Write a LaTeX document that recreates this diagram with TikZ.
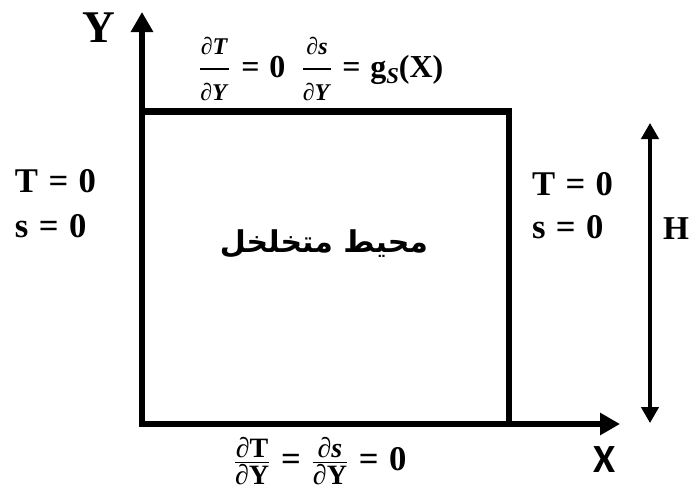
\documentclass[tikz,border=0pt]{standalone}
\usepackage{amsmath}
\usepackage{fontspec}
\setmainfont{Liberation Serif}
\newfontfamily\calfont{Carlito}
\newfontfamily\arabicfont[Script=Arabic]{DejaVu Sans}
\TeXXeTstate=1
\usetikzlibrary{arrows.meta}
\newcommand\fsz[1]{\fontsize{#1}{#1}\selectfont}
\newcommand\myfr[3]{$\genfrac{}{}{0.9pt}{1}{\text{\fsz{#1}\bfseries #2}}{\text{\fsz{#1}\bfseries #3}}$}
\newcommand\myfrd[3]{$\genfrac{}{}{0.9pt}{0}{\text{\fsz{#1}\bfseries #2}}{\text{\fsz{#1}\bfseries #3}}$}
\newcommand\eqs{\hspace{0.3em}=\hspace{0.3em}}
\tikzset{
  lbl/.style={inner sep=0pt, outer sep=0pt, font=\bfseries},
  thickline/.style={line width=5pt, line join=miter, line cap=butt},
  harrow/.style={line width=2.6pt, {Triangle[length=12pt,width=13pt]}-{Triangle[length=12pt,width=13pt]}}
}
\begin{document}
\begin{tikzpicture}[x=0.75pt,y=-0.75pt]
\useasboundingbox (0,0) rectangle (690,497);
% axes
\coordinate (ytip) at (142,12);
\coordinate (orig) at (142,424);
\coordinate (xtip) at (620,424);
\coordinate (tl) at (142,111.5);
\coordinate (tr) at (509,111.5);
\coordinate (br) at (509,424);
\draw[thickline, {Triangle[length=15pt,width=16pt]}-{Triangle[length=15pt,width=16pt]}] (ytip) -- (orig) -- (xtip);
\draw[thickline] (tl) -- (tr) -- (br);
% H arrow
\coordinate (htop) at (650,123);
\coordinate (hbot) at (650,423);
\draw[harrow] (htop) -- (hbot);
% labels
\node[lbl, font=\bfseries\fsz{34}] (Y) at (99,28) {Y};
\node[lbl, font=\calfont\bfseries\fsz{30}] (X) at (605,460) {X};
\node[lbl, font=\bfseries\fsz{25}] (H) at (676,229) {H};
\node[lbl, font=\bfseries\fsz{26}, anchor=west] (lT) at (15,181) {T\eqs 0};
\node[lbl, font=\bfseries\fsz{26}, anchor=west] (ls) at (15,226) {s\eqs 0};
\node[lbl, font=\bfseries\fsz{26}, anchor=west] (rT) at (532,184) {T\eqs 0};
\node[lbl, font=\bfseries\fsz{26}, anchor=west] (rs) at (532,227) {s\eqs 0};
\node[lbl, font=\fsz{24}\bfseries] (top) at (321,69) {\myfrd{18}{∂\textit{T}}{∂\textit{Y}}\hspace{0.35em}=\hspace{0.3em}0\hspace{0.5em}\myfrd{18}{∂\textit{s}}{∂\textit{Y}}\eqs g\raisebox{-0.2em}{\fsz{17}\textit{S}}(X)};
\node[lbl, font=\fsz{26}\bfseries] (bot) at (320,461) {\myfr{21}{∂T}{∂Y}\eqs\myfr{21}{∂\textit{s}}{∂Y}\eqs 0};
\node[lbl, font=\arabicfont\bfseries\fsz{22.5}] (medium) at (324,244) {\beginR محيط متخلخل\endR};
\end{tikzpicture}
\end{document}
